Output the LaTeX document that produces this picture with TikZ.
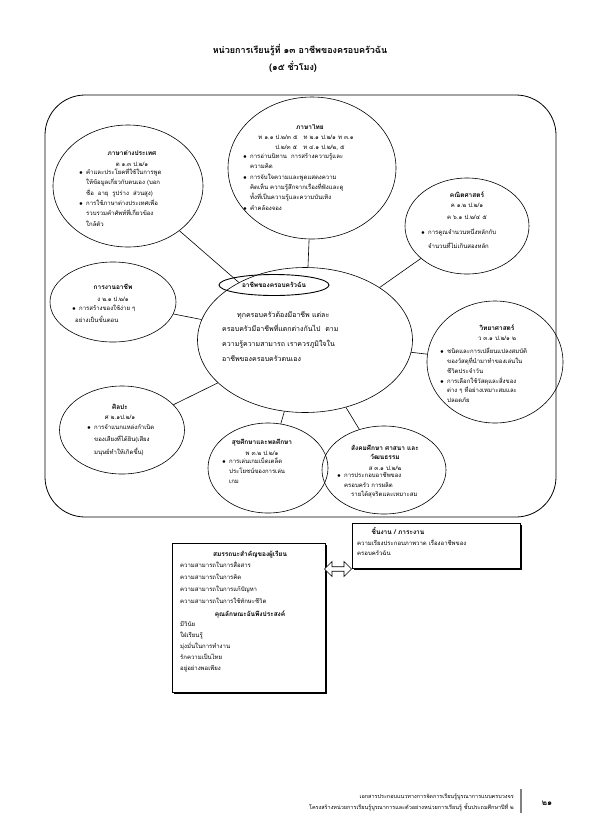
\documentclass[tikz,border=0pt]{standalone}
\usepackage{fontspec}
\newfontfamily\thai[Script=Thai]{Loma}
\usetikzlibrary{shapes.geometric,shapes.arrows,shadows}
\XeTeXlinebreaklocale "th"
\newcommand\bl{\makebox[7pt][l]{$\bullet$}}
\newcommand\ind{\hspace*{7pt}}
\begin{document}
\begin{tikzpicture}[x=1pt,y=-1pt,
  ell/.style={draw, ellipse, inner sep=0pt, line width=0.6pt},
  ttl/.style={font=\thai\bfseries\fontsize{6.5}{8}\selectfont, inner sep=0pt},
  cod/.style={font=\thai\fontsize{6}{8}\selectfont, inner sep=0pt},
  bul/.style={font=\thai\fontsize{6}{10.4}\selectfont, align=left, inner sep=0pt, anchor=north west},
  con/.style={line width=0.6pt},
  sbox/.style={draw, fill=white, line width=0.6pt, inner sep=0pt, anchor=north west,
     drop shadow={shadow xshift=1.8pt, shadow yshift=-1.8pt, fill=black, opacity=1}}
]
\useasboundingbox (0,0) rectangle (595,836);
\fill[white] (0,0) rectangle (595,836);

% title
\node[font=\thai\bfseries\fontsize{9}{10}\selectfont, inner sep=0pt] (title) at (300,50) {หน่วยการเรียนรู้ที่ ๑๓ อาชีพของครอบครัวฉัน};
\node[font=\thai\bfseries\fontsize{9}{10}\selectfont, inner sep=0pt] (hours) at (293,67) {(๑๕ ชั่วโมง)};

% frame
\draw[rounded corners=40pt, line width=0.8pt] (45,95) rectangle (556,517);

% ellipses
\node[ell, minimum width=150pt, minimum height=122pt] (fo) at (128,186) {};
\node[ell, minimum width=168pt, minimum height=142pt] (th) at (312,168) {};
\node[ell, minimum width=124pt, minimum height=96pt] (ma) at (467,226) {};
\node[ell, minimum width=126pt, minimum height=80pt] (ca) at (113,302) {};
\node[ell, minimum width=215pt, minimum height=145pt] (ce) at (305,340) {};
\node[ell, minimum width=136pt, minimum height=122pt] (sc) at (495,362) {};
\node[ell, minimum width=125pt, minimum height=88pt] (ar) at (122,430) {};
\node[ell, minimum width=120pt, minimum height=90pt] (he) at (268,468) {};
\node[ell, minimum width=124pt, minimum height=88pt] (so) at (384,470) {};

% connectors
\draw[con] (ce) -- (fo);
\draw[con] (ce) -- (th);
\draw[con] (ce) -- (ma);
\draw[con] (ce) -- (ca);
\draw[con] (ce) -- (sc);
\draw[con] (ce) -- (ar);
\draw[con] (ce) -- (he);
\draw[con] (ce) -- (so);

% foreign language
\node[ttl] (fot) at (132,153) {ภาษาต่างประเทศ};
\node[cod] (foc) at (132,164) {ต ๑.๓ ป.๒/๑};
\node[bul] (fob) at (79,168) {\bl คำและประโยคที่ใช้ในการพูด\\\ind ให้ข้อมูลเกี่ยวกับตนเอง (บอก\\\ind ชื่อ\ \ อายุ\ \ รูปร่าง\ \ ส่วนสูง)\\\bl การใช้ภาษาต่างประเทศเพื่อ\\\ind รวบรวมคำศัพท์ที่เกี่ยวข้อง\\\ind ใกล้ตัว};

% Thai
\node[ttl] (tht) at (310,127) {ภาษาไทย};
\node[cod] (thc1) at (306,137) {ท ๑.๑ ป.๒/๓ ๕\ \ \ ท ๒.๑ ป.๒/๑ ท ๓.๑};
\node[cod] (thc2) at (310,148) {ป.๒/๓ ๕\ \ \ ท ๔.๑ ป.๒/๒, ๕};
\node[bul] (thb) at (243,153) {\bl การอ่านนิทาน\ \ การสร้างความรู้และ\\\ind ความคิด\\\bl การจับใจความและพูดแสดงความ\\\ind คิดเห็น ความรู้สึกจากเรื่องที่ฟังและดู\\\ind ทั้งที่เป็นความรู้และความบันเทิง\\\bl คำคล้องจอง};

% Math
\node[ttl] (mat) at (467,195) {คณิตศาสตร์};
\node[cod] (mac1) at (467,205) {ค ๑.๒ ป.๒/๑};
\node[cod] (mac2) at (467,217) {ค ๖.๑ ป.๒/๔ ๕};
\node[bul, font=\thai\fontsize{6}{14}\selectfont] (mab) at (421,228) {\bl การคูณจำนวนหนึ่งหลักกับ\\\ind จำนวนที่ไม่เกินสองหลัก};

% Career
\node[ttl] (cat) at (113,287) {การงานอาชีพ};
\node[cod] (cac) at (113,299) {ง ๒.๑ ป.๒/๑};
\node[bul, font=\thai\fontsize{6}{11.5}\selectfont] (cab) at (72,305) {\bl การสร้างของใช้ง่าย ๆ\\\hspace*{3pt}อย่างเป็นขั้นตอน};

% Centre
\node[ell, line width=0.9pt, minimum width=110pt, minimum height=21pt, font=\thai\bfseries\fontsize{6.5}{8}\selectfont] (cet) at (274,285) {อาชีพของครอบครัวฉัน};
\node[bul, font=\thai\fontsize{7}{14.8}\selectfont] (ceb) at (222,311) {\hspace*{15pt}ทุกครอบครัวต้องมีอาชีพ แต่ละ\\ครอบครัวมีอาชีพที่แตกต่างกันไป\ \ ตาม\\ความรู้ความสามารถ เราควรภูมิใจใน\\อาชีพของครอบครัวตนเอง};

% Science
\node[ttl] (sct) at (497,328) {วิทยาศาสตร์};
\node[cod] (scc) at (497,338) {ว ๓.๑ ป.๒/๑ ๒};
\node[bul, font=\thai\fontsize{6}{9.9}\selectfont] (scb) at (440,347) {\bl ชนิดและการเปลี่ยนแปลงสมบัติ\\\ind ของวัสดุที่นำมาทำของเล่นใน\\\ind ชีวิตประจำวัน\\\bl การเลือกใช้วัสดุและสิ่งของ\\\ind ต่าง ๆ ที่อย่างเหมาะสมและ\\\ind ปลอดภัย};

% Art
\node[ttl] (art) at (120,407) {ศิลปะ};
\node[cod] (arc) at (120,417) {ศ ๒.๑ป.๒/๑};
\node[bul, font=\thai\fontsize{6}{12.5}\selectfont] (arb) at (87,424) {\bl การจำแนกแหล่งกำเนิด\\\ind ของเสียงที่ได้ยิน(เสียง\\\ind มนุษย์ทำให้เกิดขึ้น)};

% Health
\node[ttl] (het) at (262,443) {สุขศึกษาและพลศึกษา};
\node[cod] (hec) at (262,453) {พ ๓.๒ ป.๒/๑};
\node[bul, font=\thai\fontsize{6}{10}\selectfont] (heb) at (222,458) {\bl การเล่นเกมเบ็ดเตล็ด\\\ind ประโยชน์ของการเล่น\\\ind เกม};

% Social
\node[ttl] (sot1) at (385,448) {สังคมศึกษา ศาสนา และ};
\node[ttl] (sot2) at (385,457) {วัฒนธรรม};
\node[cod] (soc) at (385,468) {ส ๓.๑ ป.๒/๒};
\node[bul, font=\thai\fontsize{6}{9.8}\selectfont] (sob) at (337,472) {\bl การประกอบอาชีพของ\\\ind ครอบครัว การผลิต\\\hspace*{14pt}รายได้สุจริตและเหมาะสม};

% right box
\node[sbox, minimum width=168pt, minimum height=45pt] (wk) at (352,523) {};
\node[ttl] (wkt) at (398,531) {ชิ้นงาน / ภาระงาน};
\node[bul, font=\thai\fontsize{6}{10.5}\selectfont] (wkb) at (357,539) {ความเรียงประกอบภาพวาด เรื่องอาชีพของ\\ครอบครัวฉัน};

% bottom box
\node[sbox, minimum width=153pt, minimum height=149pt] (cp) at (172,543) {};
\node[ttl] (cpt) at (250,555) {สมรรถนะสำคัญของผู้เรียน};
\node[bul, font=\thai\fontsize{6}{12}\selectfont] (cpb) at (180,561) {ความสามารถในการสื่อสาร\\ความสามารถในการคิด\\ความสามารถในการแก้ปัญหา\\ความสามารถในการใช้ทักษะชีวิต};
\node[ttl] (cpt2) at (250,614) {คุณลักษณะอันพึงประสงค์};
\node[bul, font=\thai\fontsize{6}{11}\selectfont] (cpb2) at (180,621) {มีวินัย\\ใฝ่เรียนรู้\\มุ่งมั่นในการทำงาน\\รักความเป็นไทย\\อยู่อย่างพอเพียง};

% double arrow
\node[double arrow, draw, fill=white, line width=0.6pt, minimum width=15pt, minimum height=27pt, double arrow head extend=3pt, inner sep=1pt] (dar) at (338,569) {};

% footer
\node[font=\thai\fontsize{5.5}{7}\selectfont, anchor=east, inner sep=0pt] (f1) at (514,797) {เอกสารประกอบแนวทางการจัดการเรียนรู้บูรณาการแบบครบวงจร};
\node[font=\thai\fontsize{5.5}{7}\selectfont, anchor=east, inner sep=0pt] (f2) at (514,807) {โครงสร้างหน่วยการเรียนรู้บูรณาการและตัวอย่างหน่วยการเรียนรู้ ชั้นประถมศึกษาปีที่ ๒};
\draw[gray, line width=1.5pt] (521,789) -- (521,813);
\node[font=\thai\bfseries\fontsize{8}{10}\selectfont, inner sep=0pt] (pg) at (547,803) {๒๑};
\end{tikzpicture}
\end{document}
